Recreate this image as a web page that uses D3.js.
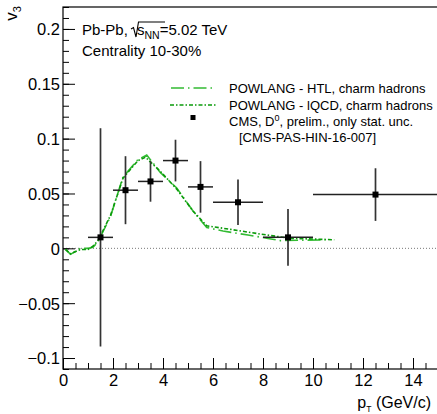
<!DOCTYPE html>
<html><head><meta charset="utf-8">
<script src="https://cdn.jsdelivr.net/npm/d3@7"></script>
<style>body{margin:0;background:#fff} svg text{font-family:"Liberation Sans",Arial,Helvetica,sans-serif}</style>
</head><body><svg id="c" width="437" height="414"></svg>
<script>
// CMS D0 v3 data
const cmsX = [1.5, 2.5, 3.5, 4.5, 5.5, 7, 9, 12.5];
const cmsXErr = [0.5, 0.5, 0.5, 0.5, 0.5, 1, 1, 2.5];
const cmsY = [0.010, 0.053, 0.061, 0.080, 0.056, 0.042, 0.010, 0.049];
const cmsYErr = [0.0995, 0.031, 0.0185, 0.019, 0.0235, 0.0207, 0.0258, 0.024];
// POWLANG HTL
const htlX = [0.1, 0.3, 0.7, 1.0, 1.2, 1.4, 1.9, 2.4, 3.0, 3.35, 3.9, 4.55, 5.2, 5.75, 6.4, 7.4, 8.2, 8.7, 9.5, 10.5];
const htlY = [-0.001, -0.0055, 0, 0, 0.001, 0.006, 0.029, 0.065, 0.081, 0.085, 0.069, 0.055, 0.034, 0.019, 0.0158, 0.0121, 0.009, 0.007, 0.0074, 0.0076];
// POWLANG lQCD
const lqcdX = [0.1, 0.3, 0.7, 1.0, 1.2, 1.4, 1.9, 2.4, 3.0, 3.3, 3.9, 4.55, 5.2, 5.75, 6.7, 7.9, 9.1, 10.0, 10.85];
const lqcdY = [-0.001, -0.005, -0.001, -0.001, 0.002, 0.007, 0.030, 0.064, 0.080, 0.083, 0.070, 0.054, 0.034, 0.0205, 0.0173, 0.013, 0.0091, 0.0085, 0.0078];
// ticks
const yTicks = [-0.1, -0.05, 0, 0.05, 0.1, 0.15, 0.2];
const yTickLabels = ["\u22120.1", "\u22120.05", "0", "0.05", "0.1", "0.15", "0.2"];
const xTicks = [0, 2, 4, 6, 8, 10, 12, 14];
const xTickLabels = ["0", "2", "4", "6", "8", "10", "12", "14"];
const legendLabels = ["POWLANG - HTL, charm hadrons", "POWLANG - lQCD, charm hadrons", "CMS, D", "[CMS-PAS-HIN-16-007]"];

const svg = d3.select("#c");
const L = 63, R = 438, T = 7, B = 369;
const x = d3.scaleLinear().domain([0, 15]).range([L, R]);
const y = d3.scaleLinear().domain([-0.11, 0.22]).range([B, T]);
const FONT = '"Liberation Sans",Arial,Helvetica,sans-serif';

// zero line
svg.append("line").attr("x1", x(0)).attr("x2", x(15)).attr("y1", y(0)).attr("y2", y(0))
  .attr("stroke", "#777").attr("stroke-width", 1).attr("stroke-dasharray", "1,2");

// axes
function styleAxis(g) {
  g.select(".domain").remove();
  g.attr("font-family", FONT).attr("font-size", 16.5);
  g.selectAll(".tick line").attr("stroke", "#000");
  g.selectAll(".tick text").attr("fill", "#000");
}
const yMinor = d3.range(-0.11, 0.2201, 0.01).map(v => Math.round(v * 100) / 100);
svg.append("g").attr("transform", `translate(${L},0)`)
  .call(d3.axisLeft(y).tickValues(yMinor).tickSize(-6).tickFormat("")).call(styleAxis);
svg.append("g").attr("transform", `translate(${L},0)`)
  .call(d3.axisLeft(y).tickValues(yTicks).tickSize(-12).tickPadding(3)
    .tickFormat((d, i) => yTickLabels[i])).call(styleAxis)
  .selectAll(".tick text").attr("dy", "0.36em");
const xMinor = d3.range(0, 15.01, 0.5);
svg.append("g").attr("transform", `translate(0,${B})`)
  .call(d3.axisBottom(x).tickValues(xMinor).tickSize(-6).tickFormat("")).call(styleAxis);
svg.append("g").attr("transform", `translate(0,${B})`)
  .call(d3.axisBottom(x).tickValues(xTicks).tickSize(-11).tickPadding(5)
    .tickFormat((d, i) => xTickLabels[i])).call(styleAxis);

// frame
svg.append("rect").attr("x", L).attr("y", T).attr("width", R - L).attr("height", B - T)
  .attr("fill", "none").attr("stroke", "#000").attr("stroke-width", 1.2);

// model curves
const line = d3.line().x(d => x(d[0])).y(d => y(d[1]));
const HTLC = "#33bb33", LQC = "#0a9a0a";
svg.append("path").datum(htlX.map((v, i) => [v, htlY[i]])).attr("d", line)
  .attr("fill", "none").attr("stroke", HTLC).attr("stroke-width", 1.6).attr("stroke-dasharray", "13,4,1.5,4");
svg.append("path").datum(lqcdX.map((v, i) => [v, lqcdY[i]])).attr("d", line)
  .attr("fill", "none").attr("stroke", LQC).attr("stroke-width", 1.6).attr("stroke-dasharray", "4,2,1.5,2");

// data points
const pts = cmsX.map((v, i) => ({ x: v, ex: cmsXErr[i], y: cmsY[i], ey: cmsYErr[i] }));
const gp = svg.append("g");
gp.selectAll(".eh").data(pts).join("line")
  .attr("x1", d => x(d.x - d.ex)).attr("x2", d => Math.min(x(d.x + d.ex), 437))
  .attr("y1", d => y(d.y)).attr("y2", d => y(d.y)).attr("stroke", "#222").attr("stroke-width", 1.5);
gp.selectAll(".ev").data(pts).join("line")
  .attr("x1", d => x(d.x)).attr("x2", d => x(d.x))
  .attr("y1", d => y(d.y - d.ey)).attr("y2", d => y(d.y + d.ey)).attr("stroke", "#333").attr("stroke-width", 1.7);
gp.selectAll("rect").data(pts).join("rect")
  .attr("x", d => x(d.x) - 3).attr("y", d => y(d.y) - 3).attr("width", 6).attr("height", 6).attr("fill", "#000");

// texts
const t1 = svg.append("text").attr("x", 82).attr("y", 35).attr("font-size", 15);
t1.append("tspan").text("Pb-Pb, ");
// sqrt
const t1b = svg.append("text").attr("x", 137).attr("y", 35).attr("font-size", 15);
t1b.append("tspan").text("s");
t1b.append("tspan").attr("font-size", 10.5).attr("dy", 4).text("NN");
t1b.append("tspan").attr("dy", -4).text("=5.02 TeV");
svg.append("path").attr("d", "M131,29 L133.5,27.5 L136,37 L138.5,22 L165,22")
  .attr("fill", "none").attr("stroke", "#000").attr("stroke-width", 1.1);
svg.append("text").attr("x", 82).attr("y", 56).attr("font-size", 15).text("Centrality 10-30%");

// legend
const lg = svg.append("g").attr("font-size", 13);
lg.append("line").attr("x1", 171).attr("x2", 215).attr("y1", 88).attr("y2", 88)
  .attr("stroke", HTLC).attr("stroke-width", 1.6).attr("stroke-dasharray", "13,4,1.5,4");
lg.append("line").attr("x1", 170).attr("x2", 217).attr("y1", 105).attr("y2", 105)
  .attr("stroke", LQC).attr("stroke-width", 1.6).attr("stroke-dasharray", "4,2,1.5,2");
lg.append("rect").attr("x", 190.5).attr("y", 115).attr("width", 5).attr("height", 5).attr("fill", "#000");
lg.append("text").attr("x", 229).attr("y", 93).text(legendLabels[0]);
lg.append("text").attr("x", 229).attr("y", 109.5).text(legendLabels[1]);
const t3 = lg.append("text").attr("x", 229).attr("y", 125.5);
t3.append("tspan").text(legendLabels[2]);
t3.append("tspan").attr("font-size", 9).attr("dy", -5).text("0");
t3.append("tspan").attr("dy", 5).text(", prelim., only stat. unc.");
lg.append("text").attr("x", 239).attr("y", 142).text(legendLabels[3]);

// axis titles
const xt = svg.append("text").attr("x", 431).attr("y", 408).attr("font-size", 16).attr("text-anchor", "end");
xt.append("tspan").text("p");
xt.append("tspan").attr("font-size", 8.5).attr("dy", 3.5).text("T");
xt.append("tspan").attr("dy", -3.5).text(" (GeV/c)");
const yt = svg.append("text").attr("transform", "translate(17,6) rotate(-90)").attr("font-size", 17).attr("text-anchor", "end");
yt.append("tspan").text("v");
yt.append("tspan").attr("font-size", 11).attr("dy", 4).text("3");
</script></body></html>
